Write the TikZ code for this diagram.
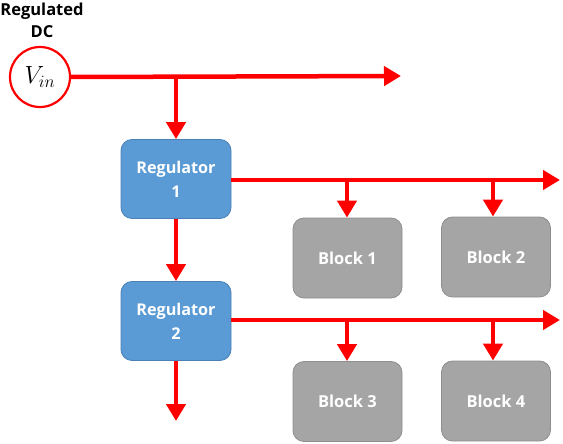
\documentclass[tikz,border=0pt]{standalone}
\usepackage{fontspec}
\setsansfont{Open Sans}
\usetikzlibrary{arrows.meta}
\definecolor{regblue}{HTML}{5B9BD5}
\definecolor{regborder}{HTML}{4A80B5}
\definecolor{blkgray}{HTML}{A5A5A5}
\definecolor{blkborder}{HTML}{8E8E8E}
\definecolor{wire}{HTML}{FF0000}
\tikzset{
  regbox/.style={draw=regborder, line width=0.8pt, fill=regblue, rounded corners=11pt,
    minimum width=110pt, minimum height=79pt, text=white, align=center,
    font=\sffamily\bfseries\fontsize{16.2}{24}\selectfont},
  blkbox/.style={draw=blkborder, line width=0.8pt, fill=blkgray, rounded corners=11pt,
    minimum width=109pt, minimum height=80pt, text=white, align=center,
    font=\sffamily\bfseries\fontsize{16.5}{24}\selectfont},
  wireline/.style={draw=wire, line width=4.5pt, -{Triangle[width=19pt,length=17pt]}},
  srcnode/.style={circle, draw=wire, line width=2.2pt, fill=white, minimum size=60pt, inner sep=0pt},
  lbl/.style={font=\sffamily\bfseries\fontsize{16.5}{22}\selectfont, align=center}
}
\begin{document}
\begin{tikzpicture}[x=1pt,y=-1pt]
\useasboundingbox (0,0) rectangle (563,444);
% nodes
\node[srcnode] (vin) at (40,77) {\fontsize{25}{25}\selectfont $V_{in}$};
\node[lbl] (title) at (42,20) {Regulated\\DC};
\node[regbox] (r1) at (176,179) {Regulator\\1};
\node[regbox] (r2) at (176,321) {Regulator\\2};
\node[blkbox] (b1) at (347.5,258) {Block 1};
\node[blkbox] (b2) at (496,257) {Block 2};
\node[blkbox] (b3) at (347.5,401.5) {Block 3};
\node[blkbox] (b4) at (496,401) {Block 4};
% free ends
\coordinate (e0) at (401,76);
\coordinate (e1) at (560,180);
\coordinate (e2) at (560,320);
\coordinate (e3) at (176,421);
\coordinate (j0) at (176,76);
\coordinate (j1) at (347,180);
\coordinate (j2) at (493,180);
\coordinate (j3) at (347,320);
\coordinate (j4) at (493,320);
% wires
\draw[wireline] (vin.east) -- (e0);
\draw[wireline] (j0) -- (r1.north);
\draw[wireline] (r1.east |- j1) -- (e1);
\draw[wireline] (j1) -- (b1.north -| j1);
\draw[wireline] (j2) -- (b2.north -| j2);
\draw[wireline] (r1.south) -- (r2.north);
\draw[wireline] (r2.east |- j3) -- (e2);
\draw[wireline] (j3) -- (b3.north -| j3);
\draw[wireline] (j4) -- (b4.north -| j4);
\draw[wireline] (r2.south) -- (e3);
\end{tikzpicture}
\end{document}
